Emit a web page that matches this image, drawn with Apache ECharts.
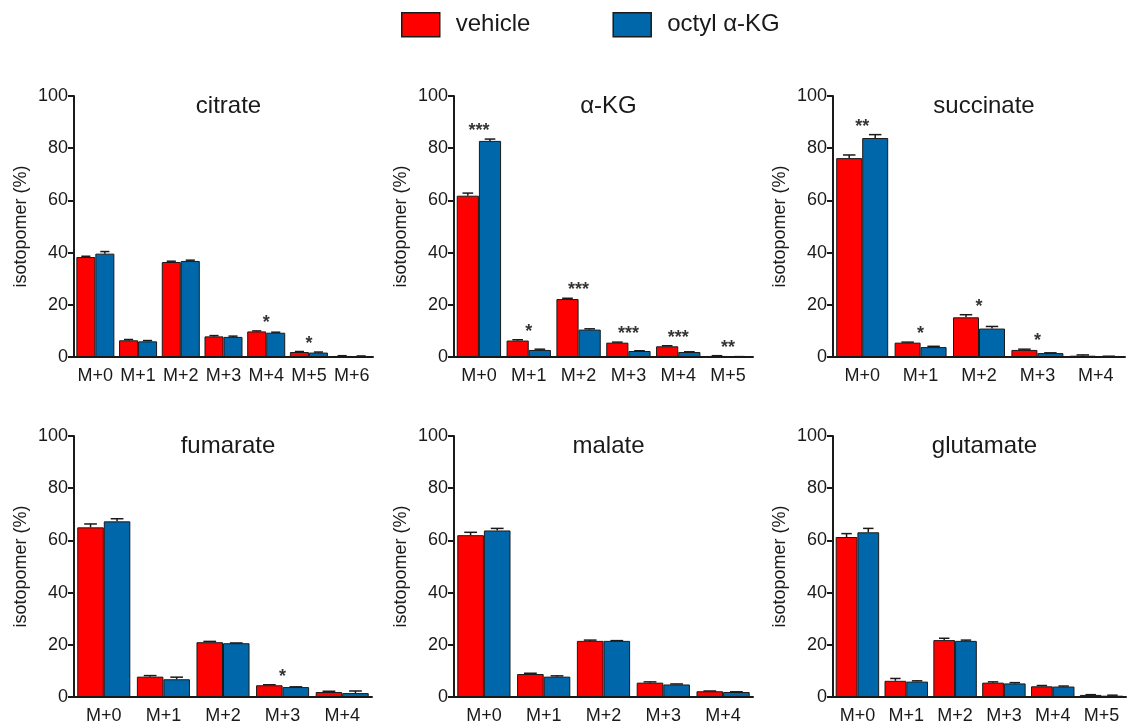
<!DOCTYPE html>
<html>
<head>
<meta charset="utf-8">
<script src="https://cdn.jsdelivr.net/npm/echarts@6/dist/echarts.min.js"></script>
<style>
  html, body { margin: 0; padding: 0; background: #fff; }
  #chart { width: 1127px; height: 727px; }
</style>
</head>
<body>
<div id="chart"></div>
<script>
// isotopomer distributions (%), mean + SEM
const citrateCats = ['M+0', 'M+1', 'M+2', 'M+3', 'M+4', 'M+5', 'M+6'];
const citrateVehicle = [38.3, 6.4, 36.4, 7.9, 9.8, 1.9, 0.4];
const citrateVehicleErr = [0.3, 0.3, 0.3, 0.3, 0.2, 0.2, 0.1];
const citrateOctyl = [39.6, 6.0, 36.8, 7.7, 9.3, 1.7, 0.3];
const citrateOctylErr = [0.8, 0.3, 0.3, 0.3, 0.2, 0.2, 0.1];
const citrateStars = ['', '', '', '', '*', '*', ''];

const akgCats = ['M+0', 'M+1', 'M+2', 'M+3', 'M+4', 'M+5'];
const akgVehicle = [61.8, 6.3, 22.2, 5.5, 4.1, 0.4];
const akgVehicleErr = [1.0, 0.3, 0.3, 0.2, 0.2, 0.1];
const akgOctyl = [82.8, 2.7, 10.5, 2.3, 1.9, 0.1];
const akgOctylErr = [0.7, 0.3, 0.3, 0.1, 0.1, 0.05];
const akgStars = ['***', '*', '***', '***', '***', '**'];

const succinateCats = ['M+0', 'M+1', 'M+2', 'M+3', 'M+4'];
const succinateVehicle = [76.2, 5.5, 15.2, 2.7, 0.5];
const succinateVehicleErr = [1.2, 0.2, 1.0, 0.3, 0.3];
const succinateOctyl = [83.9, 3.8, 10.9, 1.5, 0.2];
const succinateOctylErr = [1.3, 0.3, 0.8, 0.1, 0.1];
const succinateStars = ['**', '*', '*', '*', ''];

const fumarateCats = ['M+0', 'M+1', 'M+2', 'M+3', 'M+4'];
const fumarateVehicle = [65.0, 7.8, 21.0, 4.5, 1.9];
const fumarateVehicleErr = [1.3, 0.4, 0.3, 0.2, 0.3];
const fumarateOctyl = [67.3, 6.8, 20.6, 3.8, 1.5];
const fumarateOctylErr = [1.0, 0.8, 0.1, 0.1, 0.8];
const fumarateStars = ['', '', '', '*', ''];

const malateCats = ['M+0', 'M+1', 'M+2', 'M+3', 'M+4'];
const malateVehicle = [62.0, 8.8, 21.5, 5.5, 2.2];
const malateVehicleErr = [1.1, 0.3, 0.3, 0.3, 0.1];
const malateOctyl = [63.8, 7.8, 21.5, 4.8, 1.9];
const malateOctylErr = [0.8, 0.3, 0.1, 0.2, 0.1];
const malateStars = ['', '', '', '', ''];

const glutamateCats = ['M+0', 'M+1', 'M+2', 'M+3', 'M+4', 'M+5'];
const glutamateVehicle = [61.3, 6.2, 21.8, 5.5, 4.1, 0.8];
const glutamateVehicleErr = [1.3, 0.9, 0.7, 0.3, 0.3, 0.1];
const glutamateOctyl = [63.1, 5.9, 21.5, 5.2, 4.0, 0.5];
const glutamateOctylErr = [1.5, 0.3, 0.3, 0.3, 0.2, 0.2];
const glutamateStars = ['', '', '', '', '', ''];

const yTicks = [0, 20, 40, 60, 80, 100];

const panels = [
  { title: 'citrate', cats: citrateCats, veh: citrateVehicle, vehErr: citrateVehicleErr, oct: citrateOctyl, octErr: citrateOctylErr, stars: citrateStars },
  { title: 'α-KG', cats: akgCats, veh: akgVehicle, vehErr: akgVehicleErr, oct: akgOctyl, octErr: akgOctylErr, stars: akgStars },
  { title: 'succinate', cats: succinateCats, veh: succinateVehicle, vehErr: succinateVehicleErr, oct: succinateOctyl, octErr: succinateOctylErr, stars: succinateStars },
  { title: 'fumarate', cats: fumarateCats, veh: fumarateVehicle, vehErr: fumarateVehicleErr, oct: fumarateOctyl, octErr: fumarateOctylErr, stars: fumarateStars },
  { title: 'malate', cats: malateCats, veh: malateVehicle, vehErr: malateVehicleErr, oct: malateOctyl, octErr: malateOctylErr, stars: malateStars },
  { title: 'glutamate', cats: glutamateCats, veh: glutamateVehicle, vehErr: glutamateVehicleErr, oct: glutamateOctyl, octErr: glutamateOctylErr, stars: glutamateStars }
];

const FONT = '"Liberation Sans", Arial, sans-serif';
const INK = '#1a1a1a';
const RED = '#ff0000';
const BLUE = '#0068aa';
const GAP = 0.11;

// grid boxes: [left, top, width, height]
const boxes = [
  [74, 96, 299, 261], [454, 96, 299, 261], [833, 96, 292, 261],
  [74, 436, 298, 261], [454, 436, 299, 261], [833, 436, 293, 261]
];

function errorSeries(gi, vals, errs, side) {
  return {
    type: 'custom',
    xAxisIndex: gi,
    yAxisIndex: gi,
    z: 5,
    silent: true,
    data: vals.map((v, i) => [i, v, errs[i]]),
    renderItem: function (params, api) {
      const i = api.value(0), v = api.value(1), e = api.value(2);
      const band = api.size([1, 0])[0];
      const bw = band * (1 - GAP) / 2;
      const base = api.coord([i, v]);
      const top = api.coord([i, v + e]);
      const cx = base[0] + side * bw / 2;
      const half = bw * 0.24;
      const st = { stroke: INK, lineWidth: 1.5 };
      return {
        type: 'group',
        children: [
          { type: 'line', shape: { x1: cx, y1: base[1], x2: cx, y2: top[1] }, style: st },
          { type: 'line', shape: { x1: cx - half, y1: top[1], x2: cx + half, y2: top[1] }, style: st }
        ]
      };
    }
  };
}

const grid = [], xAxis = [], yAxis = [], title = [], series = [];

panels.forEach(function (p, gi) {
  const b = boxes[gi];
  grid.push({ left: b[0], top: b[1], width: b[2], height: b[3] });
  title.push({
    text: p.title,
    left: b[0] + b[2] / 2,
    top: b[1] - 7,
    textAlign: 'center',
    textStyle: { fontFamily: FONT, fontSize: 24, fontWeight: 'normal', color: INK }
  });
  xAxis.push({
    type: 'category',
    gridIndex: gi,
    data: p.cats,
    axisLine: { lineStyle: { color: INK, width: 2 } },
    axisTick: { alignWithLabel: true, length: 6, lineStyle: { color: INK, width: 2 } },
    axisLabel: { fontFamily: FONT, fontSize: 18, color: INK, margin: 10, interval: 0 }
  });
  yAxis.push({
    type: 'value',
    gridIndex: gi,
    min: yTicks[0],
    max: yTicks[yTicks.length - 1],
    interval: 20,
    name: 'isotopomer (%)',
    nameLocation: 'middle',
    nameGap: 44,
    nameTextStyle: { fontFamily: FONT, fontSize: 18, color: INK },
    splitLine: { show: false },
    axisLine: { show: true, lineStyle: { color: INK, width: 2 } },
    axisTick: { show: true, length: 6, lineStyle: { color: INK, width: 2 } },
    axisLabel: { fontFamily: FONT, fontSize: 18, color: INK, margin: 6 }
  });
  series.push({
    name: 'vehicle', type: 'bar', xAxisIndex: gi, yAxisIndex: gi,
    barGap: '0%', barCategoryGap: (GAP * 100) + '%',
    itemStyle: { color: RED, borderColor: INK, borderWidth: 1 },
    data: p.veh
  });
  series.push({
    name: 'octyl α-KG', type: 'bar', xAxisIndex: gi, yAxisIndex: gi,
    barGap: '0%', barCategoryGap: (GAP * 100) + '%',
    itemStyle: { color: BLUE, borderColor: INK, borderWidth: 1 },
    data: p.oct
  });
  series.push(errorSeries(gi, p.veh, p.vehErr, -1));
  series.push(errorSeries(gi, p.oct, p.octErr, 1));
  const starData = [];
  p.stars.forEach(function (s, i) {
    if (!s) return;
    const top = Math.max(p.veh[i] + p.vehErr[i], p.oct[i] + p.octErr[i]);
    starData.push({ value: [i, top + 3], name: s });
  });
  series.push({
    type: 'scatter', xAxisIndex: gi, yAxisIndex: gi, symbolSize: 0, silent: true, z: 6,
    data: starData,
    label: {
      show: true, position: 'inside', formatter: '{b}',
      fontFamily: FONT, fontSize: 18, fontWeight: 'bold', color: '#000'
    }
  });
});

const chart = echarts.init(document.getElementById('chart'), null, { renderer: 'canvas' });
chart.setOption({
  animation: false,
  backgroundColor: '#fff',
  legend: {
    data: ['vehicle', 'octyl α-KG'],
    left: 401,
    top: 12,
    padding: 0,
    icon: 'rect',
    itemWidth: 38,
    itemHeight: 24,
    itemGap: 82,
    itemStyle: { borderColor: INK, borderWidth: 1.5 },
    textStyle: { fontFamily: FONT, fontSize: 24, color: INK, padding: [0, 0, 0, 11] }
  },
  title: title,
  grid: grid,
  xAxis: xAxis,
  yAxis: yAxis,
  series: series
});
</script>
</body>
</html>
